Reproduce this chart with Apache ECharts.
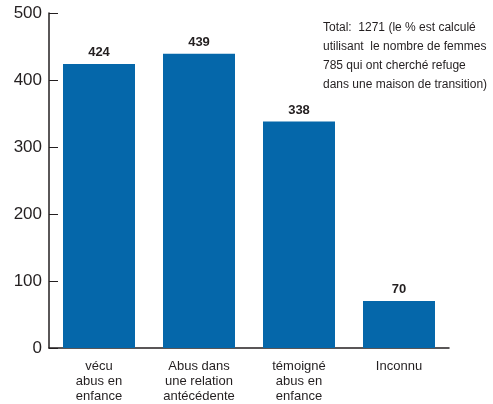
<!DOCTYPE html>
<html><head><meta charset="utf-8">
<script src="https://cdn.jsdelivr.net/npm/echarts@6/dist/echarts.min.js"></script>
<style>html,body{margin:0;padding:0;background:#fff}#c{width:493px;height:404px}</style>
</head><body><div id="c"></div>
<script>
const categories = ["vécu\nabus en\nenfance", "Abus dans\nune relation\nantécédente", "témoigné\nabus en\nenfance", "Inconnu"];
const values = [424, 439, 338, 70];
const yTicks = [0, 100, 200, 300, 400, 500];
const note = "Total:  1271 (le % est calculé\nutilisant  le nombre de femmes\n785 qui ont cherché refuge\ndans une maison de transition)";

const chart = echarts.init(document.getElementById('c'));
const txt = '#231f20';
chart.setOption({
  animation: false,
  title: {
    text: note, left: 318, top: 13,
    textStyle: { fontFamily: 'Liberation Sans', fontSize: 12, fontWeight: 'normal', color: txt, lineHeight: 19 }
  },
  grid: { left: 49, right: 44, top: 13, bottom: 51, containLabel: false },
  xAxis: {
    type: 'category', data: categories,
    axisLine: { lineStyle: { color: '#231f20', width: 1.5 } },
    axisTick: { inside: true, length: 8, lineStyle: { color: '#555' } },
    axisLabel: { color: txt, fontSize: 13, fontFamily: 'Liberation Sans', lineHeight: 15, margin: 11 }
  },
  yAxis: {
    type: 'value', min: yTicks[0], max: yTicks[yTicks.length - 1], interval: 100,
    axisLine: { show: true, lineStyle: { color: '#231f20', width: 1.5 } },
    axisTick: { show: true, inside: true, length: 9, lineStyle: { color: '#231f20' } },
    splitLine: { show: false },
    axisLabel: { color: txt, fontSize: 17, fontFamily: 'Liberation Sans', margin: 7 }
  },
  series: [{
    type: 'bar', data: values, barCategoryGap: '28%',
    itemStyle: { color: '#0567aa' },
    label: { show: true, position: 'top', distance: 5, color: txt, fontWeight: 'bold', fontSize: 13, fontFamily: 'Liberation Sans' }
  }]
});
</script></body></html>
